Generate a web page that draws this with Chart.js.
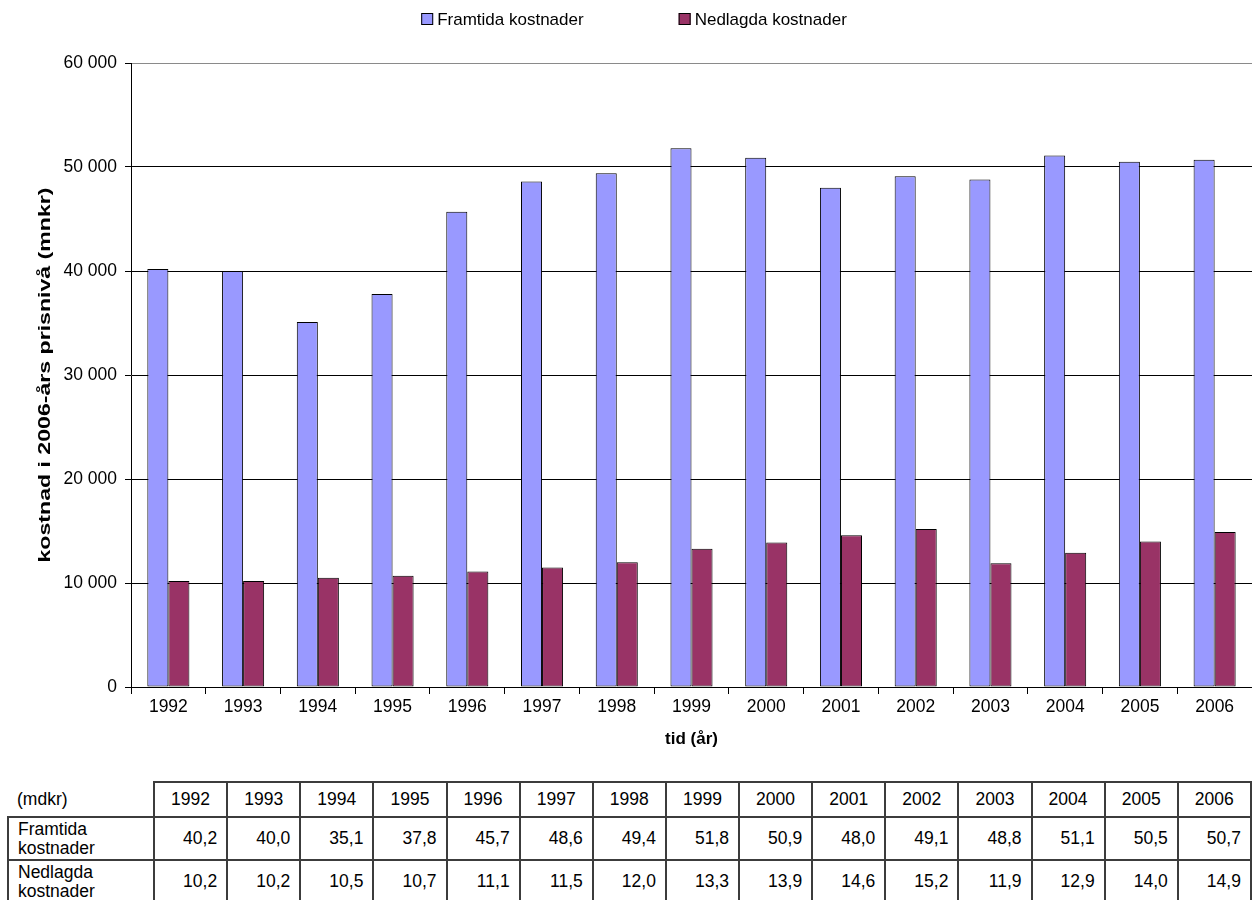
<!DOCTYPE html>
<html lang="sv">
<head>
<meta charset="utf-8">
<title>Framtida och nedlagda kostnader 1992–2006</title>
<script src="https://cdn.jsdelivr.net/npm/chart.js@4.4.1/dist/chart.umd.min.js"></script>
<style>
  html, body { margin: 0; padding: 0; background: #fff; }
  body { width: 1252px; height: 900px; overflow: hidden; position: relative;
         font-family: "Liberation Sans", Arial, sans-serif; color: #000; }
  #chartBox { position: absolute; left: 0; top: 0; width: 1252px; height: 770px; }
  #dataTable { position: absolute; left: 7px; top: 781px; border-collapse: collapse;
               table-layout: fixed; font-size: 17.5px; }
  #dataTable td { border: 2px solid #3c3c3c; padding: 0; white-space: nowrap; }
  #dataTable tr.head td { height: 33px; text-align: center; }
  #dataTable tr.body td { height: 41px; text-align: right; padding-right: 9px; }
  #dataTable tr td.label { text-align: left; padding-left: 9px; padding-right: 0;
                           line-height: 19px; white-space: normal; }
  #dataTable tr.head td.label { border-top: none; border-left: none; }
</style>
</head>
<body>
<div id="chartBox"><canvas id="chart" width="1252" height="770"></canvas></div>
<table id="dataTable"></table>
<script>
// Years on the category axis
const years = ['1992','1993','1994','1995','1996','1997','1998','1999',
               '2000','2001','2002','2003','2004','2005','2006'];

// Costs in 2006 price level, mnkr
const framtida = [40200, 40000, 35100, 37800, 45700, 48600, 49400, 51800,
                  50900, 48000, 49100, 48800, 51100, 50500, 50700];
const nedlagda = [10200, 10200, 10500, 10700, 11100, 11500, 12000, 13300,
                  13900, 14600, 15200, 11900, 12900, 14000, 14900];

const seriesNames = ['Framtida kostnader', 'Nedlagda kostnader'];
const seriesLabelLines = [['Framtida', 'kostnader'], ['Nedlagda', 'kostnader']];
const yTicks = [0, 10000, 20000, 30000, 40000, 50000, 60000];
const yTitle = 'kostnad i 2006-års prisnivå (mnkr)';

const FONT = '"Liberation Sans", Arial, sans-serif';
Chart.defaults.font.family = FONT;
Chart.defaults.font.size = 17.5;
Chart.defaults.color = '#000';

const spaced = v => String(v).replace(/\B(?=(\d{3})+(?!\d))/g, ' ');
const mdkr = v => (v / 1000).toFixed(1).replace('.', ',');

// Legend drawn above the plot: small bordered squares followed by the series name
const topLegend = {
  id: 'topLegend',
  afterDraw(chart) {
    const ctx = chart.ctx;
    const box = 12, textGap = 4, itemGap = 95, cy = 19;
    ctx.save();
    ctx.font = '17px ' + FONT;
    const items = chart.data.datasets.map(ds => ({
      ds, w: box + textGap + ctx.measureText(ds.label).width
    }));
    const total = items.reduce((s, it) => s + it.w, 0) + itemGap * (items.length - 1);
    let x = (chart.width - total) / 2 + 8;
    items.forEach(it => {
      ctx.fillStyle = it.ds.backgroundColor;
      ctx.fillRect(x, cy - box / 2, box, box);
      ctx.strokeStyle = '#000';
      ctx.lineWidth = 1;
      ctx.strokeRect(x + 0.5, cy - box / 2 + 0.5, box - 1, box - 1);
      ctx.fillStyle = '#000';
      ctx.textBaseline = 'middle';
      ctx.textAlign = 'left';
      ctx.fillText(it.ds.label, x + box + textGap, cy + 1);
      x += it.w + itemGap;
    });
    ctx.restore();
  }
};

// Vertical value-axis title, stretched along its run to span the plot height
const yAxisTitle = {
  id: 'yAxisTitle',
  afterDraw(chart) {
    const ctx = chart.ctx;
    const area = chart.chartArea;
    const span = 375;
    ctx.save();
    ctx.font = 'bold 17px ' + FONT;
    const w = ctx.measureText(yTitle).width;
    ctx.translate(45, (area.top + area.bottom) / 2);
    ctx.rotate(-Math.PI / 2);
    ctx.scale(span / w, 1);
    ctx.fillStyle = '#000';
    ctx.textAlign = 'center';
    ctx.textBaseline = 'middle';
    ctx.fillText(yTitle, 0, 0);
    ctx.restore();
  }
};

new Chart(document.getElementById('chart'), {
  type: 'bar',
  data: {
    labels: years,
    datasets: [
      { label: seriesNames[0], data: framtida, backgroundColor: '#9999FF',
        borderColor: '#000', borderWidth: 1, borderSkipped: false },
      { label: seriesNames[1], data: nedlagda, backgroundColor: '#993366',
        borderColor: '#000', borderWidth: 1, borderSkipped: false }
    ]
  },
  options: {
    responsive: false,
    animation: false,
    layout: { padding: { top: 63, left: 0, right: 0, bottom: 0 } },
    datasets: { bar: { categoryPercentage: 0.563, barPercentage: 1.0 } },
    plugins: { legend: { display: false }, tooltip: { enabled: false } },
    scales: {
      x: {
        afterFit(s) { s.height = 83; },
        grid: { offset: true, drawOnChartArea: false, drawTicks: true,
                tickLength: 7, color: '#000' },
        border: { color: '#000', width: 1 },
        ticks: { padding: 3, maxRotation: 0, autoSkip: false, font: { size: 17.5 } },
        title: { display: true, text: 'tid (år)', font: { size: 17, weight: 'bold' },
                 padding: { top: 0, bottom: 20 } }
      },
      y: {
        min: 0, max: 60000,
        afterFit(s) { s.width = 131; },
        afterBuildTicks(s) { s.ticks = yTicks.map(v => ({ value: v })); },
        grid: {
          color: c => (c.tick && c.tick.value === 60000 ? '#8a8a8a' : '#000'),
          tickColor: '#000', tickLength: 6, lineWidth: 1
        },
        border: { color: '#000', width: 1 },
        ticks: { padding: 8, callback: v => spaced(v), font: { size: 17.5 } },
        title: { display: false }
      }
    }
  },
  plugins: [topLegend, yAxisTitle]
});

// Value table under the chart, built from the same series (in mdkr)
(function buildTable() {
  const table = document.getElementById('dataTable');
  const colgroup = document.createElement('colgroup');
  const c0 = document.createElement('col'); c0.style.width = '146px'; colgroup.appendChild(c0);
  years.forEach(() => { const c = document.createElement('col'); c.style.width = '73.13px'; colgroup.appendChild(c); });
  table.appendChild(colgroup);

  const head = document.createElement('tr');
  head.className = 'head';
  const h0 = document.createElement('td'); h0.className = 'label'; h0.textContent = '(mdkr)';
  head.appendChild(h0);
  years.forEach(y => { const td = document.createElement('td'); td.textContent = y; head.appendChild(td); });
  table.appendChild(head);

  [framtida, nedlagda].forEach((series, i) => {
    const tr = document.createElement('tr');
    tr.className = 'body';
    const l = document.createElement('td'); l.className = 'label';
    l.innerHTML = seriesLabelLines[i].join('<br>');
    tr.appendChild(l);
    series.forEach(v => { const td = document.createElement('td'); td.textContent = mdkr(v); tr.appendChild(td); });
    table.appendChild(tr);
  });
})();
</script>
</body>
</html>
